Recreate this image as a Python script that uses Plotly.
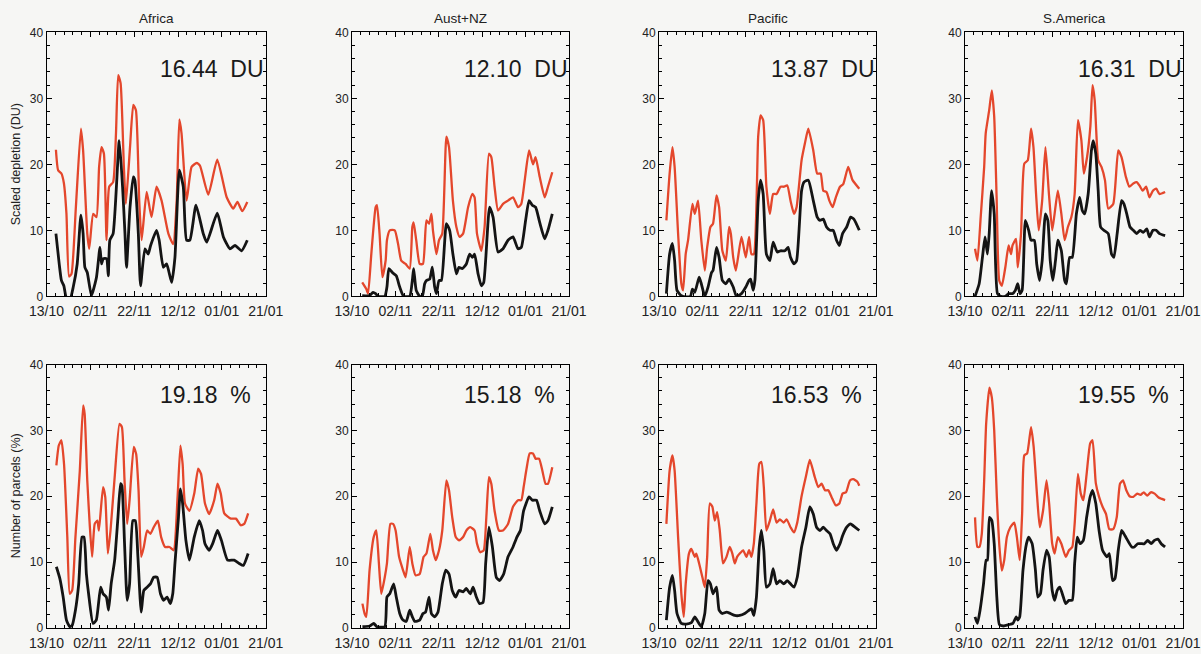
import plotly.graph_objects as go

# ---------------------------------------------------------------------------
# Data: day offset from 13 October, value
# ---------------------------------------------------------------------------
tick_days = [0, 20, 40, 60, 80, 100]
tick_labels = ["13/10", "02/11", "22/11", "12/12", "01/01", "21/01"]
y_ticks = [0, 10, 20, 30, 40]

regions = ["Africa", "Aust+NZ", "Pacific", "S.America"]
du_means = ["16.44", "12.10", "13.87", "16.31"]
pct_means = ["19.18", "15.18", "16.53", "19.55"]

# Scaled depletion (DU) -- red: upper series, black: lower series
africa_du_red = [(4.3, 22.2), (5.3, 19.1), (6.8, 18.6), (7.9, 17.2), (9.1, 12.5), (10.3, 3.0), (11.4, 3.4),
                 (13.4, 13.5), (15.7, 25.4), (16.7, 22.1), (18.6, 9.5), (19.5, 7.2), (21.3, 12.5), (22.8, 12.0),
                 (24.0, 19.6), (25.1, 22.6), (26.2, 21.6), (27.4, 8.5), (28.6, 16.6), (30.4, 17.3), (31.7, 24.7),
                 (32.7, 33.5), (33.8, 32.3), (35.3, 19.6), (36.2, 14.0), (38.1, 22.6), (39.6, 29.0), (40.8, 28.2),
                 (42.3, 14.5), (43.4, 8.5), (45.7, 15.8), (47.9, 12.0), (50.2, 16.6), (52.5, 14.5), (55.6, 9.5),
                 (57.8, 7.9), (59.4, 14.5), (60.6, 26.8), (61.6, 24.7), (63.9, 14.5), (66.2, 19.6), (68.5, 20.2),
                 (70.0, 19.8), (73.8, 15.4), (77.9, 20.7), (82.2, 15.0), (85.2, 13.3), (87.1, 14.3), (89.3, 12.9),
                 (91.6, 14.3)]
africa_du_black = [(4.3, 9.5), (5.8, 4.9), (6.8, 2.4), (7.9, 1.6), (9.1, -0.3), (10.7, -0.5), (12.2, 1.4),
                   (14.0, 4.9), (15.7, 12.3), (16.7, 9.5), (17.5, 4.4), (18.6, 3.6), (20.5, 0.1), (22.8, 2.9),
                   (24.4, 7.4), (25.1, 4.9), (25.9, 5.7), (27.4, 5.7), (28.2, 3.1), (28.9, 8.5), (30.4, 9.5),
                   (33.2, 23.6), (34.7, 16.6), (35.8, 9.5), (36.5, 4.4), (38.1, 13.5), (39.6, 18.1), (40.3, 17.6),
                   (41.9, 9.5), (42.9, 1.6), (44.9, 7.2), (46.4, 6.4), (47.5, 7.7), (50.2, 10.0), (51.4, 8.5),
                   (53.3, 4.4), (54.8, 4.9), (57.1, 2.1), (58.6, 5.9), (60.6, 19.1), (62.4, 16.6), (63.9, 8.5),
                   (65.4, 8.5), (68.2, 13.8), (71.5, 9.5), (73.1, 8.2), (77.9, 12.6), (80.7, 9.0), (83.7, 7.2),
                   (86.0, 7.7), (89.0, 6.9), (91.6, 8.5)]

austnz_du_red = [(4.7, 2.1), (6.6, 1.1), (7.4, 0.4), (8.9, 6.4), (10.9, 13.5), (11.5, 13.8), (12.7, 9.5),
                 (14.0, 2.9), (15.5, 5.4), (16.1, 8.5), (17.4, 10.0), (19.7, 10.0), (21.2, 8.0), (22.7, 5.4),
                 (24.7, 4.9), (26.6, 4.2), (27.8, 10.5), (28.4, 11.2), (29.6, 8.5), (31.2, 4.9), (32.7, 4.9),
                 (34.3, 11.5), (35.5, 11.0), (36.6, 12.5), (37.3, 10.0), (38.9, 6.4), (40.1, 8.5), (41.6, 9.5),
                 (43.5, 24.2), (44.7, 22.6), (46.5, 14.5), (48.1, 10.5), (49.6, 9.0), (51.2, 9.5), (53.5, 13.5),
                 (55.5, 15.5), (56.5, 15.0), (57.6, 9.5), (59.6, 6.9), (61.1, 10.5), (63.1, 21.6), (64.2, 21.1),
                 (65.7, 16.6), (67.3, 13.0), (69.6, 14.0), (71.9, 14.5), (74.2, 15.0), (76.5, 13.5), (78.0, 14.0),
                 (79.6, 17.6), (81.6, 22.1), (83.4, 20.0), (84.6, 21.1), (86.5, 18.1), (88.8, 15.0), (90.3, 16.6),
                 (92.3, 18.8)]
austnz_du_black = [(4.7, 0.1), (8.1, 0.1), (9.7, 0.6), (10.9, 0.4), (12.0, 0.0), (15.1, 0.0), (16.1, 1.4),
                   (17.0, 4.2), (18.6, 3.6), (20.4, 3.1), (22.0, 1.4), (23.8, 0.0), (26.6, 0.0), (27.8, 2.4),
                   (28.4, 4.2), (29.6, 0.9), (31.2, 0.0), (32.4, 0.0), (33.5, 1.9), (34.3, 2.4), (35.8, 2.6),
                   (37.0, 4.4), (38.1, 1.4), (38.9, 0.4), (40.1, 2.4), (41.2, 2.4), (43.5, 11.0), (45.0, 10.0),
                   (46.5, 6.4), (48.1, 3.4), (49.3, 4.4), (50.8, 4.2), (52.7, 4.9), (54.2, 6.4), (55.5, 5.9),
                   (56.5, 6.4), (58.1, 3.4), (59.6, 1.6), (60.7, 2.1), (63.4, 13.5), (65.0, 12.0), (67.3, 6.7),
                   (69.6, 7.2), (71.9, 8.5), (74.2, 9.0), (76.5, 7.2), (78.0, 7.4), (80.0, 11.5), (81.6, 14.5),
                   (83.1, 13.8), (84.6, 13.5), (86.5, 11.2), (88.8, 8.7), (90.3, 10.0), (92.3, 12.5)]

pacific_du_red = [(3.4, 11.5), (4.9, 18.6), (6.2, 22.6), (7.2, 19.6), (8.8, 9.5), (10.3, 1.9), (11.1, 0.9),
                  (12.3, 6.4), (13.4, 8.5), (15.4, 14.0), (16.5, 12.5), (18.0, 14.5), (19.5, 8.5), (21.1, 3.9),
                  (22.2, 7.4), (23.7, 10.5), (24.9, 11.0), (26.5, 15.3), (27.7, 13.5), (29.2, 6.9), (30.8, 5.4),
                  (32.3, 10.5), (33.1, 9.5), (34.2, 5.9), (35.4, 3.9), (38.0, 9.0), (40.0, 5.9), (41.5, 9.0),
                  (42.6, 6.4), (43.7, 6.4), (45.7, 24.2), (46.8, 27.4), (48.0, 26.7), (49.5, 16.6), (51.1, 12.5),
                  (52.6, 15.5), (54.2, 15.5), (56.0, 16.6), (57.5, 16.6), (59.1, 16.8), (60.6, 14.5), (62.2, 12.5),
                  (63.4, 13.5), (65.7, 20.6), (67.2, 23.1), (68.8, 25.4), (71.1, 22.1), (72.9, 18.6), (74.5, 18.6),
                  (75.7, 16.0), (77.2, 15.8), (78.5, 14.5), (80.0, 13.5), (81.5, 15.0), (83.4, 16.6), (84.9, 17.0),
                  (87.2, 19.6), (89.2, 17.6), (92.3, 16.3)]
pacific_du_black = [(3.4, 0.4), (4.9, 6.4), (6.2, 8.0), (7.2, 5.4), (8.3, 0.9), (10.3, 0.1), (12.6, -0.1),
                    (14.5, 0.0), (15.4, 1.1), (16.5, 0.6), (18.5, 2.9), (19.5, 1.9), (21.1, 0.0), (22.6, 1.4),
                    (24.2, 3.6), (24.9, 3.9), (26.5, 7.4), (27.7, 5.9), (29.2, 2.4), (30.8, 1.9), (32.3, 2.6),
                    (34.2, 1.4), (35.7, 0.0), (38.0, 0.4), (40.0, 1.4), (41.5, 2.4), (42.2, 2.6), (43.4, 0.9),
                    (44.2, 2.4), (45.7, 14.5), (46.8, 17.6), (48.0, 15.5), (49.5, 6.4), (51.1, 5.4), (52.6, 8.2),
                    (54.5, 6.7), (56.0, 6.9), (58.0, 6.9), (59.5, 7.4), (60.6, 5.9), (62.2, 4.9), (63.4, 5.4),
                    (65.7, 16.0), (66.8, 17.3), (68.8, 17.6), (71.1, 14.5), (72.9, 12.0), (74.2, 11.5),
                    (75.7, 11.7), (77.2, 10.5), (78.8, 10.0), (80.3, 10.0), (81.8, 8.5), (83.1, 7.7), (84.6, 9.5),
                    (86.5, 10.5), (88.3, 12.0), (89.8, 11.7), (92.3, 10.0)]

samerica_du_red = [(4.6, 7.2), (5.7, 5.4), (7.2, 12.0), (8.8, 19.6), (9.5, 24.7), (11.1, 28.2), (12.3, 31.2),
                   (13.4, 27.2), (14.5, 15.0), (15.7, 2.4), (16.9, 1.6), (18.5, 4.4), (20.0, 7.7), (21.1, 6.4),
                   (21.8, 7.7), (23.4, 8.7), (24.2, 4.4), (25.7, 9.5), (27.2, 20.1), (28.8, 20.6), (30.3, 25.4),
                   (31.4, 22.6), (32.6, 15.5), (33.8, 10.0), (35.4, 14.5), (36.9, 22.6), (38.5, 15.5),
                   (40.0, 10.0), (41.1, 12.5), (42.6, 16.0), (44.2, 12.5), (45.7, 8.5), (47.2, 10.5), (48.8, 12.0),
                   (50.3, 15.5), (51.8, 26.7), (53.4, 23.6), (54.5, 18.6), (56.0, 21.1), (57.5, 25.7),
                   (58.5, 32.0), (59.5, 29.7), (61.1, 20.6), (62.6, 19.6), (64.2, 17.6), (65.7, 13.3),
                   (68.0, 14.0), (70.3, 22.1), (71.8, 21.1), (73.8, 18.1), (75.4, 16.6), (77.2, 17.1),
                   (78.8, 17.3), (80.0, 16.8), (81.5, 16.0), (83.1, 16.6), (84.6, 15.0), (86.2, 16.0),
                   (87.7, 16.3), (89.2, 15.5), (91.8, 15.8)]
samerica_du_black = [(4.6, 0.0), (6.5, 1.9), (8.0, 5.9), (9.2, 9.0), (10.3, 6.4), (11.1, 9.5), (12.2, 16.0),
                     (13.4, 12.5), (14.9, 0.4), (16.5, 0.0), (18.5, 0.0), (20.0, 0.4), (21.8, 0.4), (23.1, 0.9),
                     (24.2, 1.9), (25.2, 0.4), (26.2, 0.9), (27.7, 11.5), (29.2, 10.0), (30.3, 8.5), (31.8, 8.5),
                     (32.9, 4.9), (34.2, 2.4), (35.4, 5.4), (36.9, 12.5), (38.0, 11.5), (39.1, 5.4), (40.3, 2.4),
                     (41.5, 5.4), (42.6, 8.5), (44.2, 6.9), (45.7, 2.4), (46.5, 1.9), (48.0, 5.9), (49.2, 5.9),
                     (51.1, 12.5), (52.6, 15.0), (53.8, 13.0), (54.9, 12.5), (56.5, 15.5), (58.0, 22.1),
                     (58.8, 23.6), (60.0, 21.6), (61.1, 16.0), (62.2, 10.5), (63.7, 10.0), (65.7, 9.5),
                     (67.2, 6.4), (68.3, 5.9), (69.8, 9.5), (71.8, 14.5), (72.9, 14.0), (74.2, 12.5),
                     (75.7, 10.5), (77.2, 10.0), (78.8, 9.5), (80.3, 10.0), (81.8, 9.7), (83.4, 10.2),
                     (84.6, 9.0), (86.2, 10.0), (87.7, 10.0), (89.2, 9.5), (91.8, 9.2)]

# Number of parcels (%)
africa_pct_red = [(4.5, 24.7), (5.6, 27.7), (6.8, 28.5), (8.0, 24.9), (9.5, 13.8), (10.6, 5.2), (11.7, 5.7),
                  (13.2, 13.8), (15.2, 23.9), (16.7, 33.8), (17.4, 32.5), (18.6, 22.4), (19.7, 15.8),
                  (20.8, 10.8), (22.0, 15.8), (23.2, 16.3), (23.9, 14.8), (25.8, 21.4), (26.8, 19.9),
                  (28.0, 11.3), (29.2, 14.8), (31.1, 22.9), (33.3, 31.0), (34.4, 30.5), (35.6, 22.4),
                  (36.8, 15.8), (37.9, 19.4), (39.8, 27.5), (40.9, 26.4), (42.0, 20.9), (43.2, 10.8),
                  (44.4, 12.3), (45.9, 14.8), (47.4, 14.3), (48.9, 15.3), (50.8, 16.3), (52.3, 13.8),
                  (54.1, 12.3), (56.1, 12.3), (58.0, 11.8), (59.8, 19.9), (61.1, 27.7), (62.1, 24.9),
                  (63.2, 18.9), (65.2, 17.8), (67.4, 20.4), (69.2, 24.2), (70.5, 23.4), (72.3, 18.9),
                  (74.2, 17.3), (76.5, 19.4), (78.0, 21.9), (79.5, 20.4), (81.1, 17.4), (84.1, 16.6),
                  (86.4, 16.6), (88.6, 15.6), (90.2, 15.8), (92.0, 17.4)]
africa_pct_black = [(4.5, 9.3), (6.1, 7.5), (7.6, 4.7), (9.1, 1.2), (10.6, 0.2), (11.7, 0.4), (13.2, 2.7),
                    (14.7, 6.7), (16.2, 13.8), (17.1, 13.8), (18.2, 8.2), (19.2, 5.2), (21.2, 0.7), (22.7, 1.2),
                    (24.7, 6.2), (25.8, 5.2), (27.3, 4.7), (28.3, 2.7), (29.5, 6.7), (31.1, 10.3), (32.6, 16.8),
                    (33.8, 21.9), (34.4, 21.6), (35.6, 12.8), (36.8, 4.2), (37.9, 6.7), (39.4, 16.3),
                    (40.5, 16.3), (41.7, 10.8), (43.2, 2.4), (44.4, 5.7), (45.9, 6.2), (47.4, 6.7), (48.9, 7.7),
                    (50.5, 7.7), (52.0, 5.2), (53.5, 4.2), (55.0, 4.7), (56.5, 3.7), (57.6, 5.2), (58.6, 9.8),
                    (60.2, 16.8), (61.1, 21.1), (62.1, 18.9), (63.6, 13.3), (65.2, 10.3), (67.4, 13.8),
                    (69.7, 16.3), (71.2, 14.8), (72.3, 12.8), (74.2, 11.8), (75.8, 12.8), (78.0, 14.8),
                    (79.8, 13.3), (82.6, 10.3), (85.6, 10.3), (87.9, 9.8), (89.8, 9.5), (92.0, 11.3)]

austnz_pct_red = [(4.8, 3.7), (5.8, 2.2), (6.6, 1.7), (8.1, 8.8), (10.0, 13.8), (11.2, 14.8), (12.4, 9.8),
                  (13.5, 5.2), (15.1, 7.7), (16.1, 9.8), (17.7, 15.8), (18.9, 15.8), (20.1, 14.8), (21.7, 10.8),
                  (23.5, 8.8), (24.7, 7.7), (26.6, 12.3), (27.8, 9.8), (29.3, 8.0), (31.2, 8.2), (33.0, 10.8),
                  (34.3, 11.3), (36.1, 14.3), (37.3, 11.8), (38.6, 10.3), (40.1, 11.8), (41.6, 14.8),
                  (43.5, 22.4), (44.7, 20.9), (46.2, 16.8), (47.8, 13.8), (49.3, 13.3), (51.2, 13.8),
                  (52.7, 14.8), (54.5, 15.3), (56.5, 14.8), (57.6, 12.8), (59.1, 11.5), (60.7, 11.8),
                  (61.9, 16.8), (63.1, 22.9), (64.2, 21.9), (65.7, 17.8), (67.7, 14.8), (69.6, 14.8),
                  (71.9, 15.8), (74.2, 18.4), (76.5, 19.4), (78.0, 19.4), (79.1, 21.4), (80.3, 23.9),
                  (81.9, 26.5), (83.4, 26.5), (84.6, 25.7), (86.2, 25.7), (87.7, 23.9), (89.2, 21.9),
                  (90.3, 21.9), (92.3, 24.4)]
austnz_pct_black = [(4.8, 0.2), (8.1, 0.3), (10.0, 0.7), (11.5, 0.2), (15.1, 0.2), (16.1, 4.7), (17.4, 5.2),
                    (19.2, 6.7), (20.4, 4.7), (22.0, 2.2), (23.5, 1.2), (25.0, 1.0), (26.6, 2.7), (27.8, 1.7),
                    (28.9, 1.0), (31.2, 1.2), (32.7, 2.2), (33.9, 2.4), (35.5, 4.7), (36.6, 2.2), (38.1, 1.7),
                    (39.6, 2.4), (41.6, 6.7), (43.2, 8.8), (44.7, 8.2), (46.2, 5.7), (47.8, 4.7), (49.3, 5.7),
                    (51.2, 5.5), (52.7, 6.0), (54.5, 5.2), (55.8, 6.2), (57.3, 4.7), (58.8, 3.7), (60.4, 3.9),
                    (61.6, 9.8), (63.1, 15.3), (64.7, 12.3), (66.5, 7.7), (68.0, 7.2), (69.9, 8.2),
                    (71.9, 10.8), (74.2, 12.3), (76.0, 13.8), (77.6, 14.8), (79.1, 17.8), (81.6, 19.9),
                    (83.1, 19.4), (85.0, 19.4), (86.5, 17.8), (88.8, 15.8), (90.3, 16.3), (92.3, 18.4)]

pacific_pct_red = [(3.4, 15.8), (4.9, 23.9), (6.2, 26.2), (7.2, 23.9), (8.8, 13.8), (10.3, 5.2), (11.4, 1.7),
                   (12.3, 6.7), (13.8, 11.3), (14.9, 12.0), (16.5, 10.8), (17.2, 11.3), (18.5, 9.8), (20.0, 7.7),
                   (21.1, 6.2), (22.2, 10.8), (23.4, 18.9), (24.6, 18.4), (25.7, 16.3), (26.8, 17.6),
                   (28.0, 14.8), (29.5, 9.8), (31.1, 10.8), (32.6, 12.3), (33.8, 11.3), (34.9, 9.8),
                   (36.0, 10.8), (37.2, 11.3), (38.8, 11.8), (40.3, 10.8), (41.5, 11.8), (42.6, 10.8),
                   (43.7, 12.8), (44.9, 18.9), (46.2, 24.9), (47.2, 25.2), (48.3, 21.4), (49.5, 14.8),
                   (51.1, 16.3), (52.6, 18.0), (54.2, 16.0), (55.7, 16.5), (57.5, 16.0), (58.8, 16.5),
                   (60.6, 15.3), (62.2, 14.5), (63.7, 16.0), (65.7, 20.0), (67.7, 23.0), (69.5, 25.5),
                   (71.8, 22.9), (73.4, 21.4), (74.9, 21.9), (76.5, 20.9), (78.0, 20.9), (79.5, 19.9),
                   (81.5, 18.6), (83.1, 18.9), (84.6, 20.4), (86.2, 20.6), (88.0, 22.4), (89.5, 22.6),
                   (91.4, 22.2), (92.3, 21.6)]
pacific_pct_black = [(3.4, 1.2), (4.9, 6.2), (6.2, 8.0), (7.2, 5.7), (8.3, 2.2), (10.3, 0.7), (12.6, 0.6),
                     (14.9, 0.8), (16.5, 1.7), (17.5, 1.2), (19.5, 0.2), (21.1, 2.2), (22.6, 7.2), (23.7, 6.7),
                     (24.9, 5.2), (26.5, 6.2), (27.7, 2.7), (29.2, 2.2), (31.1, 2.4), (32.9, 2.2), (34.9, 1.9),
                     (37.2, 1.9), (39.5, 2.2), (41.5, 2.7), (42.6, 2.9), (43.7, 1.9), (44.9, 4.7), (46.2, 12.3),
                     (47.2, 14.8), (48.3, 11.8), (49.5, 6.2), (51.1, 6.7), (52.6, 9.0), (54.2, 6.7),
                     (55.7, 7.2), (57.5, 6.7), (59.1, 7.2), (60.6, 6.7), (62.2, 6.2), (63.7, 7.7),
                     (65.7, 12.3), (67.7, 15.3), (69.5, 18.4), (71.1, 17.3), (72.6, 15.3), (74.2, 14.8),
                     (75.7, 15.3), (77.2, 14.8), (78.8, 14.3), (80.3, 12.8), (81.8, 11.8), (83.4, 12.8),
                     (84.6, 14.0), (86.5, 15.3), (88.3, 15.8), (90.3, 15.3), (92.3, 14.8)]

samerica_pct_red = [(4.6, 16.8), (5.7, 12.3), (6.6, 12.3), (7.7, 14.3), (8.8, 22.4), (9.7, 31.0),
                    (11.2, 36.5), (12.3, 35.0), (13.4, 30.0), (14.6, 19.9), (15.8, 12.3), (16.9, 8.7),
                    (18.0, 10.3), (19.2, 13.8), (20.8, 15.3), (22.6, 16.0), (23.8, 13.8), (25.1, 10.3),
                    (26.2, 17.3), (27.2, 26.2), (28.5, 26.5), (30.3, 30.5), (31.5, 27.5), (33.1, 19.9),
                    (34.3, 15.3), (35.8, 17.8), (37.4, 22.4), (38.6, 18.9), (40.0, 12.8), (41.1, 11.3),
                    (42.6, 13.8), (44.2, 12.8), (46.2, 10.8), (47.7, 11.8), (49.2, 12.3), (50.3, 15.8),
                    (51.8, 23.4), (53.1, 20.4), (54.3, 19.4), (55.8, 23.4), (57.4, 28.0), (58.5, 28.5),
                    (60.0, 22.0), (61.5, 19.9), (63.1, 18.4), (64.7, 17.3), (66.2, 15.0), (68.0, 15.0),
                    (69.6, 16.8), (71.1, 21.9), (72.5, 22.4), (74.0, 20.9), (75.5, 20.0), (77.2, 19.9),
                    (79.0, 20.4), (80.5, 20.2), (82.0, 20.6), (83.6, 20.1), (85.2, 20.6), (87.0, 20.4),
                    (88.8, 19.8), (91.8, 19.4)]
samerica_pct_black = [(4.6, 1.7), (5.7, 0.7), (6.9, 2.7), (8.5, 6.7), (9.7, 10.3), (10.3, 10.3), (11.2, 16.8),
                      (12.3, 16.3), (13.4, 12.8), (14.6, 4.7), (15.8, 0.5), (17.7, 0.3), (20.0, 0.5),
                      (22.0, 0.7), (23.5, 1.7), (24.2, 1.2), (25.1, 1.7), (26.6, 8.8), (28.2, 12.8), (29.2, 13.8),
                      (30.8, 12.8), (32.3, 8.8), (33.4, 4.7), (34.6, 5.2), (35.8, 8.8), (37.4, 11.8),
                      (38.6, 10.8), (40.0, 5.7), (41.1, 4.2), (42.3, 5.7), (43.5, 6.2), (45.1, 4.7), (46.2, 3.7),
                      (47.7, 4.2), (49.2, 4.2), (50.3, 9.8), (51.5, 13.8), (52.8, 12.8), (54.3, 13.3),
                      (55.8, 16.8), (57.4, 19.9), (58.5, 20.9), (60.0, 18.9), (61.5, 14.8), (63.1, 11.8),
                      (65.1, 10.8), (66.2, 11.3), (67.7, 7.2), (68.8, 7.5), (70.3, 11.8), (71.8, 14.8),
                      (73.4, 14.0), (74.6, 13.3), (76.5, 12.3), (77.7, 12.3), (79.2, 12.8), (80.8, 12.8),
                      (82.3, 12.8), (83.8, 13.3), (85.4, 12.8), (86.9, 13.3), (88.5, 13.5), (90.0, 12.8),
                      (91.8, 12.3)]

du_series = [(africa_du_red, africa_du_black), (austnz_du_red, austnz_du_black),
             (pacific_du_red, pacific_du_black), (samerica_du_red, samerica_du_black)]
pct_series = [(africa_pct_red, africa_pct_black), (austnz_pct_red, austnz_pct_black),
              (pacific_pct_red, pacific_pct_black), (samerica_pct_red, samerica_pct_black)]

# ---------------------------------------------------------------------------
# Layout geometry (pixels of the 1201 x 654 page)
# ---------------------------------------------------------------------------
W, H = 1201, 654
col_px = [(46.5, 265.7), (352.0, 569.0), (659.0, 876.0), (965.0, 1183.0)]
row_px = [(32.3, 296.3), (364.5, 628.0)]  # top / bottom edges measured from page top

RED = "#e4472c"
BLACK = "#141414"
FONT = "Liberation Sans, Arial, Helvetica, sans-serif"
BG = "#f6f6f4"

fig = go.Figure()
layout_axes = {}
annotations = []

for row, (series_set, unit, means) in enumerate([(du_series, "DU", du_means),
                                                 (pct_series, "%", pct_means)]):
    for col in range(4):
        idx = row * 4 + col + 1
        xname = "x" if idx == 1 else f"x{idx}"
        yname = "y" if idx == 1 else f"y{idx}"
        red, black = series_set[col]
        for pts, color, width in [(red, RED, 2.3), (black, BLACK, 2.8)]:
            fig.add_trace(go.Scatter(
                x=[p[0] for p in pts], y=[p[1] for p in pts],
                mode="lines", line=dict(color=color, width=width, shape="spline", smoothing=0.5),
                xaxis=xname, yaxis=yname, showlegend=False, hoverinfo="skip"))

        x0, x1 = col_px[col]
        top, bot = row_px[row]
        common = dict(showline=True, linecolor="black", linewidth=1, mirror="ticks",
                      ticks="inside", tickcolor="black", tickwidth=1, ticklen=5,
                      showgrid=False, zeroline=False, fixedrange=True, automargin=False,
                      tickfont=dict(family=FONT, size=12, color="#222"))
        layout_axes["xaxis" if idx == 1 else f"xaxis{idx}"] = dict(
            common, domain=[x0 / W, x1 / W], range=[0, 100], anchor=yname,
            tickmode="array", tickvals=tick_days, ticktext=tick_labels,
            tickfont=dict(family=FONT, size=14, color="#222"), ticklabelstandoff=2,
            minor=dict(ticks="inside", dtick=4, tick0=0, ticklen=3, tickcolor="black", showgrid=False))
        layout_axes["yaxis" if idx == 1 else f"yaxis{idx}"] = dict(
            common, domain=[1 - bot / H, 1 - top / H], range=[0, 40], anchor=xname,
            tickmode="array", tickvals=y_ticks,
            minor=dict(ticks="inside", dtick=2, tick0=0, ticklen=3, tickcolor="black", showgrid=False))

        # mean value written inside each panel
        annotations.append(dict(
            x=50.7, y=34.4 if row == 0 else 35.3, xref=xname, yref=yname,
            text=f"{means[col]}\u00a0\u00a0{unit}", showarrow=False,
            xanchor="left", yanchor="middle",
            font=dict(family=FONT, size=23, color="#1a1a1a")))

        if row == 0:
            annotations.append(dict(
                x=(x0 + x1) / 2 / W, y=1 - 18 / H, xref="paper", yref="paper",
                text=regions[col], showarrow=False, xanchor="center", yanchor="middle",
                font=dict(family=FONT, size=13.5, color="#222")))

# y-axis titles on the left column
for row, title in enumerate(["Scaled depletion (DU)", "Number of parcels (%)"]):
    top, bot = row_px[row]
    annotations.append(dict(
        x=16 / W, y=1 - (top + bot) / 2 / H, xref="paper", yref="paper",
        text=title, textangle=-90, showarrow=False, xanchor="center", yanchor="middle",
        font=dict(family=FONT, size=12.5, color="#222")))

fig.update_layout(
    width=W, height=H, margin=dict(l=0, r=0, t=0, b=0),
    paper_bgcolor=BG, plot_bgcolor=BG,
    annotations=annotations, **layout_axes)

fig.write_html("out.html", config={"displayModeBar": False})
